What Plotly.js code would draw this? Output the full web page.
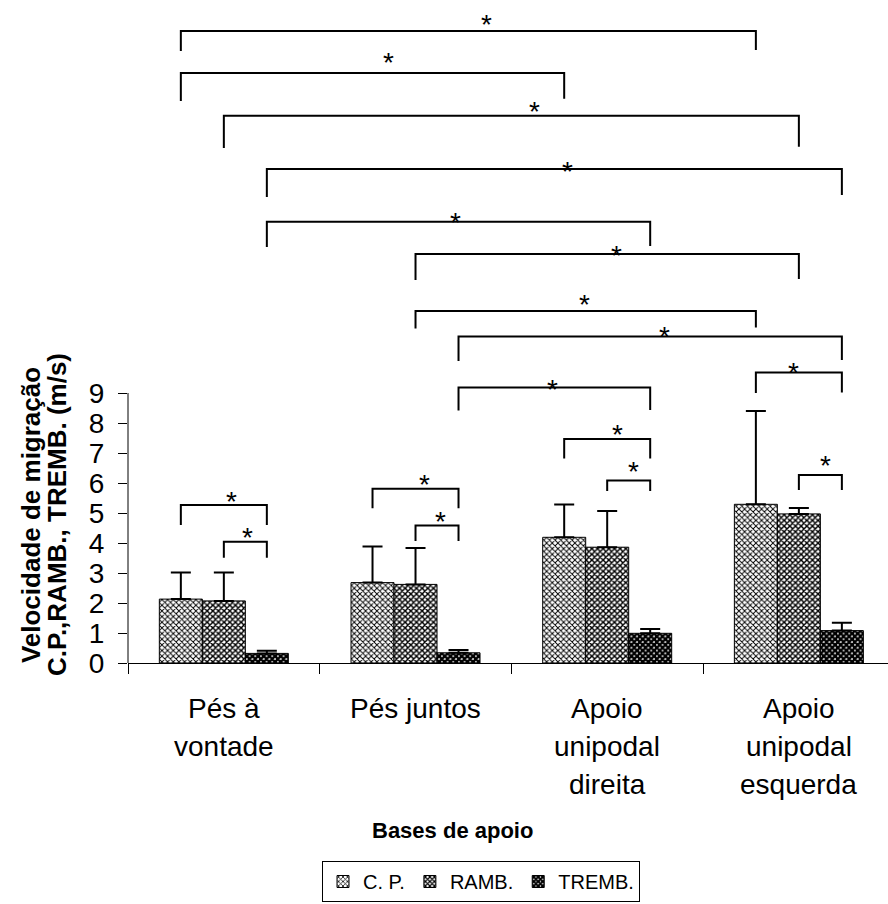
<!DOCTYPE html>
<html>
<head>
<meta charset="utf-8">
<script src="https://cdn.plot.ly/plotly-3.0.1.min.js"></script>
<style>html,body{margin:0;padding:0;background:#fff;}#chart{width:888px;height:904px;}</style>
</head>
<body>
<div id="chart"></div>
<script>
// ---- data ----
const categories = ["Pés à<br>vontade", "Pés juntos", "Apoio<br>unipodal<br>direita", "Apoio<br>unipodal<br>esquerda"];
const seriesNames = ["C. P.", "RAMB.", "TREMB."];
const cpMean = [2.13, 2.68, 4.19, 5.29];
const cpErr = [0.89, 1.20, 1.09, 3.11];
const rambMean = [2.07, 2.62, 3.86, 4.97];
const rambErr = [0.95, 1.21, 1.21, 0.20];
const trembMean = [0.32, 0.34, 0.99, 1.08];
const trembErr = [0.09, 0.09, 0.14, 0.26];
const yTickVals = [0, 1, 2, 3, 4, 5, 6, 7, 8, 9];
const yTitleLines = ["Velocidade de migração", "C.P.,RAMB., TREMB. (m/s)"];
const xTitle = "Bases de apoio";

// significance brackets: [group, series] endpoints, top level, leg end levels, star position
const bracketFrom = [[0,0],[0,0],[0,1],[0,2],[0,2],[1,1],[1,1],[1,2],[1,2],[3,0],[2,0],[2,1],[3,1],[1,0],[1,1],[0,0],[0,1]];
const bracketTo   = [[3,0],[2,0],[3,1],[3,2],[2,2],[3,1],[3,0],[3,2],[2,2],[3,2],[2,2],[2,2],[3,2],[1,2],[1,2],[0,2],[0,2]];
const bracketTop  = [21.07, 19.67, 18.24, 16.47, 14.71, 13.63, 11.73, 10.88, 9.18, 9.68, 7.47, 6.08, 6.27, 5.81, 4.58, 5.27, 4.04];
const bracketLeftEnd  = [20.40, 18.73, 17.17, 15.53, 13.87, 12.77, 11.15, 10.07, 8.42, 9.00, 6.82, 5.73, 5.77, 5.16, 4.07, 4.60, 3.51];
const bracketRightEnd = [20.43, 18.81, 17.21, 15.60, 13.90, 12.80, 11.18, 10.10, 8.43, 9.02, 6.82, 5.73, 5.77, 5.16, 4.07, 4.60, 3.51];
const starX = [1.370, 0.861, 1.622, 1.793, 1.209, 2.049, 1.880, 2.300, 1.715, 2.970, 2.052, 2.135, 3.140, 1.045, 1.132, 0.040, 0.124];
const starY = [21.47, 20.21, 18.59, 16.60, 14.88, 13.80, 12.16, 11.08, 9.32, 9.88, 7.82, 6.60, 6.77, 6.16, 4.93, 5.60, 4.38];

// ---- chart ----
const FONT = "Liberation Sans, Arial, sans-serif";
const xIdx = categories.map((c, i) => i);
const bargap = 0.327;
const bw = (1 - bargap) / 3;
const means = [cpMean, rambMean, trembMean];
const errs = [cpErr, rambErr, trembErr];
const patterns = [
  {shape: 'x', fgcolor: '#000', bgcolor: '#fff', size: 4, solidity: 0.42},
  {shape: 'x', fgcolor: '#000', bgcolor: '#fff', size: 4, solidity: 0.6},
  {shape: 'x', fgcolor: '#000', bgcolor: '#fff', size: 4, solidity: 0.85}
];

const traces = seriesNames.map((name, s) => ({
  type: 'bar', name: name, x: xIdx, y: means[s],
  marker: {color: '#fff', line: {color: '#000', width: 1}, pattern: patterns[s]},
  error_y: {type: 'data', symmetric: false, array: errs[s], arrayminus: errs[s].map(() => 0),
            color: '#000', thickness: 2, width: 10}
}));

const bx = (p) => p[0] + (p[1] - 1) * bw;
bracketFrom.forEach((f, i) => {
  const t = bracketTo[i];
  traces.push({
    type: 'scatter', mode: 'lines', showlegend: false, hoverinfo: 'skip',
    x: [bx(f), bx(f), bx(t), bx(t)],
    y: [bracketLeftEnd[i], bracketTop[i], bracketTop[i], bracketRightEnd[i]],
    line: {color: '#000', width: 2}
  });
});

const annotations = [];
starX.forEach((x, i) => annotations.push({
  x: x, y: starY[i], xref: 'x', yref: 'y', text: '*', showarrow: false,
  yshift: -6, font: {family: FONT, size: 28, color: '#000'}
}));
categories.forEach((c, i) => {
  c.split('<br>').forEach((line, j) => annotations.push({
    x: i, y: 0, xref: 'x', yref: 'y', text: line, showarrow: false,
    yanchor: 'middle', yshift: -45 - 38 * j,
    font: {family: FONT, size: 28, color: '#000'}
  }));
});
yTitleLines.forEach((line, j) => annotations.push({
  x: 0, y: 4.93, xref: 'paper', yref: 'y', text: '<b>' + line + '</b>', showarrow: false,
  textangle: -90, xanchor: 'center', yanchor: 'middle', xshift: -97 + 26 * j,
  font: {family: FONT, size: 26, color: '#000'}
}));
annotations.push({
  x: (452 - 128) / 760, y: -(830 - 663) / 663, xref: 'paper', yref: 'paper',
  text: '<b>' + xTitle + '</b>', showarrow: false, xanchor: 'center', yanchor: 'middle',
  font: {family: FONT, size: 22, color: '#000'}
});

const layout = {
  width: 888, height: 904,
  margin: {l: 128, r: 0, t: 0, b: 241},
  paper_bgcolor: '#fff', plot_bgcolor: '#fff',
  barmode: 'group', bargap: bargap, bargroupgap: 0,
  font: {family: FONT, color: '#000'},
  xaxis: {
    type: 'linear', range: [-0.5, 3.465], showgrid: false, zeroline: false,
    showline: true, linecolor: '#000', linewidth: 1,
    tickvals: [-0.5, 0.5, 1.5, 2.5], ticks: 'outside', ticklen: 10, tickcolor: '#000',
    showticklabels: false, fixedrange: true
  },
  yaxis: {
    range: [0, 22.1], showgrid: false, zeroline: false, showline: false,
    tickvals: yTickVals, ticktext: yTickVals.map(String),
    ticks: 'outside', ticklen: 9, tickcolor: '#000', ticklabelstandoff: 8,
    tickfont: {family: FONT, size: 28, color: '#000'}
  },
  shapes: [{type: 'line', xref: 'paper', yref: 'y', x0: 0, x1: 0, y0: 0, y1: 9,
            line: {color: '#000', width: 1}}],
  showlegend: true,
  legend: {
    orientation: 'h', x: (481 - 128) / 760, xanchor: 'center',
    y: -(861 - 663) / 663, yanchor: 'top', itemwidth: 30,
    bordercolor: '#000', borderwidth: 1, bgcolor: '#fff',
    font: {family: FONT, size: 20, color: '#000'}
  },
  annotations: annotations
};

Plotly.newPlot('chart', traces, layout, {displayModeBar: false, staticPlot: true});
</script>
</body>
</html>
